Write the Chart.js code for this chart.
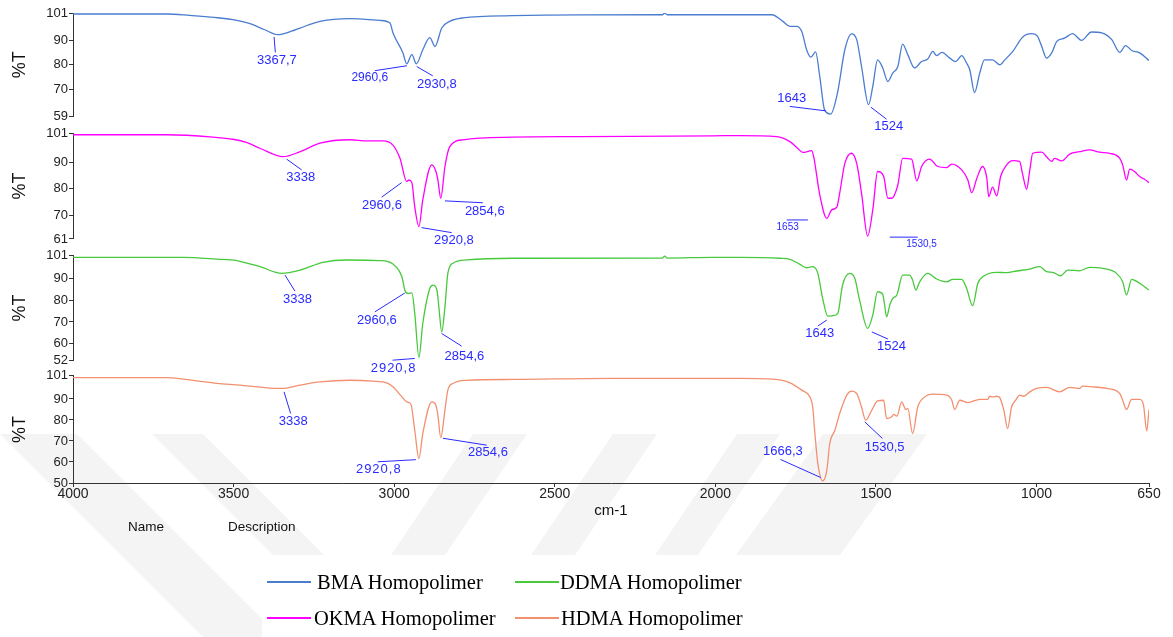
<!DOCTYPE html>
<html>
<head>
<meta charset="utf-8">
<title>FTIR homopolimer</title>
<script src="https://cdn.jsdelivr.net/npm/chart.js@4.4.1/dist/chart.umd.min.js"></script>
<style>
  html, body { margin: 0; padding: 0; background: #fff; }
  #wrap { position: relative; width: 1173px; height: 637px; overflow: hidden; }
  #chart { position: absolute; left: 0; top: 0; }
  .note { position: absolute; top: 519px; font: 13.5px Arial, "Liberation Sans", sans-serif; color: #111; }
  .key { position: absolute; height: 24px; display: flex; align-items: center;
         font: 20.5px "Liberation Serif", "Times New Roman", serif; color: #000; white-space: nowrap; }
  .key i { display: inline-block; width: 44px; height: 0; border-top: 2px solid; }
</style>
</head>
<body>
<div id="wrap">
  <canvas id="chart" width="1173" height="637"></canvas>
  <div class="note" style="left:128px">Name</div>
  <div class="note" style="left:228px">Description</div>
  <div id="legend"></div>
</div>

<script>
/*************************************************
 *  data
 *************************************************/
const seriesNames = ["BMA Homopolimer", "OKMA Homopolimer", "DDMA Homopolimer", "HDMA Homopolimer"];
const seriesColors = ["#4a7ccf", "#ff00ff", "#47c93c", "#f2906f"];

const wavenumberTicks = [4000, 3500, 3000, 2500, 2000, 1500, 1000, 650];
const bmaTicks = [59, 70, 80, 90, 101];
const okmaTicks = [61, 70, 80, 90, 101];
const ddmaTicks = [52, 60, 70, 80, 90, 101];
const hdmaTicks = [50, 60, 70, 80, 90, 101];

// BMA
const bmaWn = [4000, 3850, 3707, 3636, 3560, 3502, 3449, 3405, 3362, 3320, 3293, 3231, 3138, 3045, 3013,
  3004, 2973, 2961, 2945, 2931, 2911, 2889, 2873, 2852, 2827, 2786, 2631, 2422, 2164, 2158, 2150, 2008,
  1900, 1824, 1790, 1768, 1747, 1731, 1716, 1703, 1688, 1675, 1660, 1641, 1620, 1597, 1576, 1560, 1545,
  1523, 1510, 1495, 1479, 1463, 1448, 1432, 1417, 1401, 1380, 1358, 1339, 1323, 1311, 1295, 1270, 1252,
  1233, 1218, 1208, 1193, 1177, 1162, 1137, 1115, 1099, 1074, 1043, 1015, 997, 984, 969, 953, 937, 913,
  888, 860, 829, 797, 766, 741, 723, 704, 679, 650];
const bmaT = [100.6, 100.6, 100.6, 100.0, 99.2, 98.3, 96.7, 94.3, 92.2, 93.6, 94.9, 97.6, 98.7, 98.0, 96.9,
  93.0, 84.9, 80.4, 84.1, 80.4, 86.1, 91.0, 87.4, 94.9, 97.6, 99.0, 99.9, 100.2, 100.3, 101.0, 100.3, 100.3,
  100.3, 100.3, 97.6, 95.6, 95.6, 93.5, 86.1, 83.1, 85.2, 75.2, 61.7, 60.0, 68.5, 86.1, 92.5, 90.2, 79.3,
  63.8, 71.2, 82.0, 78.7, 73.2, 76.6, 79.3, 88.4, 84.1, 78.7, 81.3, 82.3, 85.4, 83.7, 85.0, 82.7, 81.3,
  83.7, 80.7, 78.0, 68.7, 76.6, 82.0, 82.0, 80.0, 82.0, 85.4, 91.3, 92.6, 91.5, 87.4, 82.7, 84.8, 89.5, 90.8,
  92.6, 89.9, 93.3, 92.9, 90.2, 85.0, 87.8, 85.8, 84.8, 81.7];

// OKMA
const okmaWn = [4000, 3707, 3564, 3502, 3458, 3418, 3346, 3293, 3231, 3138, 3085, 3035, 3004, 2982, 2961,
  2954, 2945, 2936, 2923, 2911, 2883, 2870, 2864, 2855, 2842, 2827, 2786, 2631, 2422, 2008, 1924, 1809,
  1768, 1744, 1728, 1700, 1694, 1675, 1653, 1638, 1622, 1613, 1597, 1576, 1560, 1545, 1526, 1510, 1495,
  1476, 1463, 1451, 1432, 1417, 1389, 1373, 1358, 1333, 1308, 1280, 1264, 1233, 1214, 1202, 1186, 1168,
  1155, 1149, 1137, 1124, 1112, 1093, 1074, 1053, 1043, 1031, 1021, 1012, 984, 969, 953, 944, 922, 897,
  866, 835, 804, 773, 741, 732, 720, 710, 695, 679, 664, 650];
const okmaT = [100.4, 100.4, 99.5, 98.7, 97.4, 95.3, 92.1, 94.0, 97.2, 98.5, 98.1, 98.1, 96.5, 91.5, 82.7,
  83.3, 82.3, 73.2, 65.7, 75.8, 89.0, 86.5, 83.3, 76.4, 88.4, 95.9, 98.5, 99.5, 99.7, 100.0, 100.1, 99.7,
  97.8, 95.3, 93.7, 94.4, 92.1, 77.7, 68.8, 72.0, 73.0, 78.3, 89.6, 93.4, 89.6, 78.3, 62.1, 72.0, 86.5,
  84.6, 76.4, 76.4, 81.4, 91.5, 91.2, 83.0, 88.4, 91.2, 88.4, 88.0, 89.3, 87.1, 83.3, 78.5, 84.0, 88.4,
  84.0, 77.0, 80.6, 77.3, 84.6, 89.0, 90.6, 90.3, 85.2, 79.8, 87.1, 93.4, 93.8, 92.1, 90.3, 91.5, 90.5, 93.1,
  94.0, 94.7, 93.8, 93.4, 91.5, 89.0, 83.3, 87.4, 86.5, 84.6, 83.6, 82.3];

// DDMA
const ddmaWn = [4000, 3658, 3552, 3490, 3458, 3418, 3350, 3293, 3222, 3147, 3044, 3004, 2976, 2967, 2957,
  2945, 2936, 2923, 2911, 2889, 2879, 2867, 2861, 2852, 2842, 2833, 2817, 2774, 2631, 2165, 2158, 2150,
  2008, 1924, 1800, 1768, 1737, 1716, 1697, 1681, 1666, 1650, 1635, 1619, 1604, 1582, 1566, 1551, 1526,
  1510, 1495, 1479, 1473, 1467, 1457, 1448, 1435, 1417, 1395, 1386, 1376, 1364, 1339, 1311, 1280, 1261,
  1233, 1218, 1199, 1183, 1168, 1124, 1093, 1062, 1021, 990, 969, 950, 925, 903, 866, 835, 794, 751, 732,
  720, 704, 679, 650];
const ddmaT = [99.9, 99.9, 99.1, 98.4, 97.2, 95.6, 92.5, 94.0, 97.6, 98.7, 98.4, 96.8, 90.9, 84.8, 83.2,
  83.5, 74.0, 53.6, 69.3, 85.6, 87.1, 84.8, 77.0, 65.4, 77.0, 92.5, 97.2, 98.7, 99.5, 99.6, 100.5, 99.6,
  99.9, 99.9, 99.5, 99.0, 96.7, 95.1, 95.6, 92.5, 80.9, 72.7, 72.9, 74.0, 87.1, 92.5, 90.2, 80.1, 67.0,
  73.2, 84.0, 82.8, 77.8, 72.4, 77.8, 80.9, 82.5, 91.7, 91.7, 89.4, 84.8, 88.6, 92.5, 89.9, 88.6, 89.7,
  89.7, 85.6, 77.5, 87.9, 90.9, 93.0, 92.8, 93.6, 94.5, 95.6, 93.3, 93.0, 91.4, 94.0, 93.7, 95.3, 94.8, 92.5, 88.6,
  82.5, 89.7, 87.9, 84.8];

// HDMA
const hdmaWn = [4000, 3707, 3627, 3552, 3480, 3409, 3350, 3293, 3231, 3138, 3066, 3023, 3004, 2976, 2961,
  2948, 2936, 2923, 2911, 2883, 2870, 2864, 2855, 2842, 2833, 2817, 2774, 2631, 2319, 2008, 1924, 1821,
  1768, 1731, 1706, 1697, 1691, 1681, 1666, 1653, 1644, 1628, 1613, 1591, 1576, 1560, 1545, 1532, 1513,
  1495, 1476, 1467, 1451, 1445, 1435, 1420, 1407, 1401, 1386, 1370, 1348, 1326, 1280, 1264, 1255, 1239,
  1214, 1177, 1152, 1146, 1137, 1124, 1115, 1102, 1090, 1078, 1065, 1053, 1040, 1021, 1000, 969, 928, 897,
  866, 857, 825, 782, 741, 732, 720, 704, 679, 667, 657, 650];
const hdmaT = [100.2, 100.2, 98.9, 97.4, 96.6, 95.5, 95.0, 96.6, 98.1, 98.9, 98.5, 97.7, 95.8, 91.0, 88.6,
  87.5, 75.1, 61.6, 73.5, 88.6, 87.0, 82.3, 71.6, 84.7, 94.2, 97.4, 98.9, 99.3, 99.8, 99.8, 99.8, 99.4,
  97.7, 94.2, 91.0, 86.2, 75.1, 59.2, 51.0, 56.1, 68.8, 75.1, 83.1, 91.8, 93.7, 92.6, 86.2, 79.9, 84.7,
  89.1, 89.4, 80.7, 81.5, 82.7, 81.8, 88.6, 85.0, 85.5, 73.5, 86.2, 91.0, 92.3, 91.8, 89.4, 85.0, 89.4,
  88.3, 89.8, 89.8, 91.3, 91.0, 91.3, 90.7, 84.7, 75.9, 86.2, 89.4, 91.8, 91.3, 93.4, 95.0, 95.5, 93.4, 95.5,
  95.0, 96.1, 95.8, 95.0, 92.6, 89.4, 85.0, 89.8, 89.8, 87.0, 74.8, 85.0];

// peak labels: [text, peak cm-1, peak %T, line end cm-1, line end %T, text cm-1, text %T]
const bmaPeaks = [
  ["3367,7", 3374, 91.3, 3370, 85.0, 3365, 81.6],
  ["2960,6", 2960.5, 79.6, 3060, 77.6, 3076, 74.7],
  ["2930,8", 2930, 79.3, 2880, 75.5, 2867, 71.9],
  ["1643", 1656, 61.3, 1768, 63.1, 1762, 66.2],
  ["1524", 1516, 62.8, 1467, 57.9, 1460, 54.8],
];
const okmaPeaks = [
  ["3338", 3335, 91.2, 3288, 87.1, 3291, 84.2],
  ["2960,6", 2977, 82.3, 3039, 76.8, 3038, 73.5],
  ["2854,6", 2842, 75.4, 2724, 74.7, 2718, 71.6],
  ["2920,8", 2915, 65.3, 2821, 63.4, 2814, 60.3],
  ["1653", 1712, 68.2, 1778, 68.2, 1775, 65.5],
  ["1530,5", 1370, 61.7, 1457, 61.7, 1358, 59.1],
];
const ddmaPeaks = [
  ["3338", 3340, 91.7, 3309, 84.3, 3301, 80.5],
  ["2960,6", 2967, 83.4, 3060, 74.7, 3054, 70.9],
  ["2920,8", 2936, 53.1, 3005, 52.3, 3002, 48.6],
  ["2854,6", 2852.5, 64.7, 2790, 58.8, 2781.5, 54.2],
  ["1643", 1653, 70.9, 1681, 68.1, 1675, 64.7],
  ["1524", 1513, 65.4, 1463, 62.1, 1452, 58.5],
];
const hdmaPeaks = [
  ["3338", 3343, 93.4, 3322.5, 83.1, 3314.5, 79.1],
  ["2920,8", 2932.5, 61.1, 3051, 60.1, 3048, 56.5],
  ["2854,6", 2848.4, 71.3, 2712, 68.0, 2708, 64.6],
  ["1666,3", 1672, 52.6, 1797.4, 61.2, 1790, 65.1],
  ["1530,5", 1535, 79.1, 1480, 71.2, 1473, 67.0],
];

/*************************************************
 *  axes: four stacked %T panels + thin gaps
 *************************************************/
const axisFont = { family: "Arial, 'Liberation Sans', sans-serif", size: 13 };

function panelAxis(ticks, weight, order) {
  return {
    type: "linear",
    position: "left",
    stack: "panels",
    stackWeight: weight,
    weight: order,
    min: ticks[0],
    max: ticks[ticks.length - 1],
    afterBuildTicks: (s) => { s.ticks = ticks.map((v) => ({ value: v })); },
    afterFit: (s) => { s.width = 73; },
    ticks: { color: "#222", font: axisFont, padding: 1, autoSkip: false, callback: (v) => String(v) },
    grid: { drawOnChartArea: false, drawTicks: true, tickLength: 4, color: "#333" },
    border: { display: true, color: "#333", width: 1 },
    title: {
      display: true, text: "%T", color: "#111",
      font: { family: axisFont.family, size: 18 },
      padding: { top: 9, bottom: 0 },
    },
  };
}

function gapAxis(weight, order) {
  return {
    type: "linear", position: "left", stack: "panels",
    stackWeight: weight, weight: order, min: 0, max: 1,
    afterFit: (s) => { s.width = 73; },
    ticks: { display: false },
    grid: { display: false },
    border: { display: false },
  };
}

const panels = [
  { id: "yBMA", wn: bmaWn, t: bmaT, peaks: bmaPeaks },
  { id: "yOKMA", wn: okmaWn, t: okmaT, peaks: okmaPeaks },
  { id: "yDDMA", wn: ddmaWn, t: ddmaT, peaks: ddmaPeaks },
  { id: "yHDMA", wn: hdmaWn, t: hdmaT, peaks: hdmaPeaks },
];

/*************************************************
 *  faint watermark stripes behind the plot
 *************************************************/
const watermark = {
  id: "watermark",
  beforeDraw(chart) {
    const ctx = chart.ctx;
    const bands = [
      [[0, 434], [77, 434], [280, 637], [203, 637]],
      [[152, 434], [203, 434], [324, 555], [273, 555]],
      [[473, 434], [527, 434], [445, 555], [391, 555]],
      [[613, 434], [657, 434], [575, 555], [531, 555]],
      [[737, 434], [780, 434], [698, 555], [655, 555]],
      [[823, 434], [927, 434], [840, 555], [736, 555]],
    ];
    ctx.save();
    ctx.fillStyle = "#f4f4f4";
    bands.forEach((b) => {
      ctx.beginPath();
      b.forEach(([x, y], i) => (i ? ctx.lineTo(x, y) : ctx.moveTo(x, y)));
      ctx.closePath();
      ctx.fill();
    });
    ctx.fillStyle = "#fff";
    ctx.fillRect(262, 555, 740, 82);
    ctx.restore();
  },
};

/*************************************************
 *  peak labels (blue leader lines)
 *************************************************/
const peakLabels = {
  id: "peakLabels",
  afterDatasetsDraw(chart) {
    const ctx = chart.ctx;
    const xs = chart.scales.x;
    ctx.save();
    ctx.strokeStyle = "#2a2aff";
    ctx.fillStyle = "#2a2aff";
    ctx.lineWidth = 1;
    ctx.textAlign = "center";
    ctx.textBaseline = "middle";
    panels.forEach((p) => {
      const ys = chart.scales[p.id];
      p.peaks.forEach(([text, w0, t0, w1, t1, w2, t2]) => {
        ctx.beginPath();
        ctx.moveTo(xs.getPixelForValue(w0), ys.getPixelForValue(t0));
        ctx.lineTo(xs.getPixelForValue(w1), ys.getPixelForValue(t1));
        ctx.stroke();

        let size = 13, spacing = "0px";
        if (p.id === "yOKMA" && w0 < 2000) size = 10;
        if (text === "2920,8" && (p.id === "yDDMA" || p.id === "yHDMA")) spacing = "1px";
        if (p.id === "yBMA" && text === "2960,6") size = 12;
        ctx.font = `${size}px Arial, 'Liberation Sans', sans-serif`;
        ctx.letterSpacing = spacing;
        ctx.fillText(text, xs.getPixelForValue(w2), ys.getPixelForValue(t2));
      });
    });
    ctx.restore();
  },
};

/*************************************************
 *  chart
 *************************************************/
const chart = new Chart(document.getElementById("chart"), {
  type: "line",
  data: {
    datasets: panels.map((p, i) => ({
      label: seriesNames[i],
      yAxisID: p.id,
      data: p.wn.map((w, k) => ({ x: w, y: p.t[k] })),
      borderColor: seriesColors[i],
      borderWidth: 1.3,
      pointRadius: 0,
      cubicInterpolationMode: "monotone",
      fill: false,
    })),
  },
  options: {
    responsive: false,
    animation: false,
    layout: { padding: { top: 13, right: 24, bottom: 114, left: 0 } },
    plugins: { legend: { display: false }, tooltip: { enabled: false } },
    scales: {
      x: {
        type: "linear",
        position: "bottom",
        reverse: true,
        min: 650,
        max: 4000,
        afterBuildTicks: (s) => { s.ticks = wavenumberTicks.map((v) => ({ value: v })); },
        afterFit: (s) => { s.height = 40; },
        ticks: {
          color: "#222", font: { family: axisFont.family, size: 14 }, padding: -1,
          maxRotation: 0, autoSkip: false, callback: (v) => String(v),
        },
        grid: { drawOnChartArea: false, drawTicks: true, tickLength: 4, color: "#333" },
        border: { display: true, color: "#333", width: 1 },
        title: {
          display: true, text: "cm-1", color: "#111",
          font: { family: axisFont.family, size: 15 },
          padding: { top: 0, bottom: 3 },
        },
      },
      yBMA: panelAxis(bmaTicks, 103.4, 7),
      gap1: gapAxis(16.6, 6),
      yOKMA: panelAxis(okmaTicks, 105.7, 5),
      gap2: gapAxis(16, 4),
      yDDMA: panelAxis(ddmaTicks, 105.7, 3),
      gap3: gapAxis(15, 2),
      yHDMA: panelAxis(hdmaTicks, 107, 1),
    },
  },
  plugins: [watermark, peakLabels],
});

/*************************************************
 *  legend (two columns, like the original)
 *************************************************/
const legendSpots = [
  { left: 267, top: 570, gap: 6 },
  { left: 267, top: 606, gap: 3 },
  { left: 515, top: 570, gap: 1 },
  { left: 515, top: 606, gap: 2 },
];
const legend = document.getElementById("legend");
seriesNames.forEach((name, i) => {
  const spot = legendSpots[i];
  const item = document.createElement("div");
  item.className = "key";
  item.style.left = spot.left + "px";
  item.style.top = spot.top + "px";
  item.innerHTML = `<i style="border-color:${seriesColors[i]};margin-right:${spot.gap}px"></i>${name}`;
  legend.appendChild(item);
});
</script>
</body>
</html>
